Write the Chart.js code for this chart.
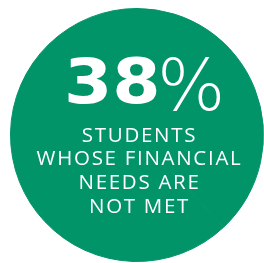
<!DOCTYPE html>
<html>
<head>
<meta charset="utf-8">
<script src="https://cdn.jsdelivr.net/npm/chart.js@4.4.1/dist/chart.umd.min.js"></script>
<style>
  html, body { margin: 0; padding: 0; background: #fff; }
  #wrap { width: 264px; height: 263px; }
</style>
</head>
<body>
<div id="wrap"><canvas id="statChart"></canvas></div>
<script>
// Data
const statLabels = ['Not met', 'Met'];
const statValues = [38, 62];
const bigNumber = '38';
const captionLines = ['STUDENTS', 'WHOSE FINANCIAL', 'NEEDS ARE', 'NOT MET'];

const green = '#009468';

// Center text plugin
const centerText = {
    id: 'centerText',
    afterDraw(chart) {
        const ctx = chart.ctx;
        const arc = chart.getDatasetMeta(0).data[0];
        const cx = arc.x;
        ctx.save();
        ctx.fillStyle = '#ffffff';
        ctx.textBaseline = 'alphabetic';
        ctx.textAlign = 'left';

        // big number, slightly stretched wide
        ctx.save();
        ctx.translate(cx - 73, 103);
        ctx.scale(1.12, 1);
        ctx.font = 'bold 62px "DejaVu Sans"';
        ctx.fillText(bigNumber, 0, 0);
        ctx.restore();

        // percent sign, thin and sitting lower
        ctx.font = '200 72px "DejaVu Sans"';
        ctx.fillText('%', cx + 20, 110);

        // caption
        ctx.textAlign = 'center';
        ctx.font = '500 20.5px "Open Sans"';
        ctx.letterSpacing = '1.7px';
        captionLines.forEach((line, i) => {
            ctx.fillText(line, cx + 2.5, 141.5 + i * 23.7);
        });
        ctx.restore();
    }
};

new Chart(document.getElementById('statChart'), {
    type: 'pie',
    data: {
        labels: statLabels,
        datasets: [{
            data: statValues,
            backgroundColor: [green, green],
            borderColor: green,
            borderWidth: 1,
            hoverOffset: 0
        }]
    },
    options: {
        responsive: true,
        maintainAspectRatio: false,
        animation: false,
        layout: { padding: { left: 10, right: 0, top: 7, bottom: 0 } },
        plugins: {
            legend: { display: false },
            tooltip: { enabled: false }
        }
    },
    plugins: [centerText]
});
</script>
</body>
</html>
